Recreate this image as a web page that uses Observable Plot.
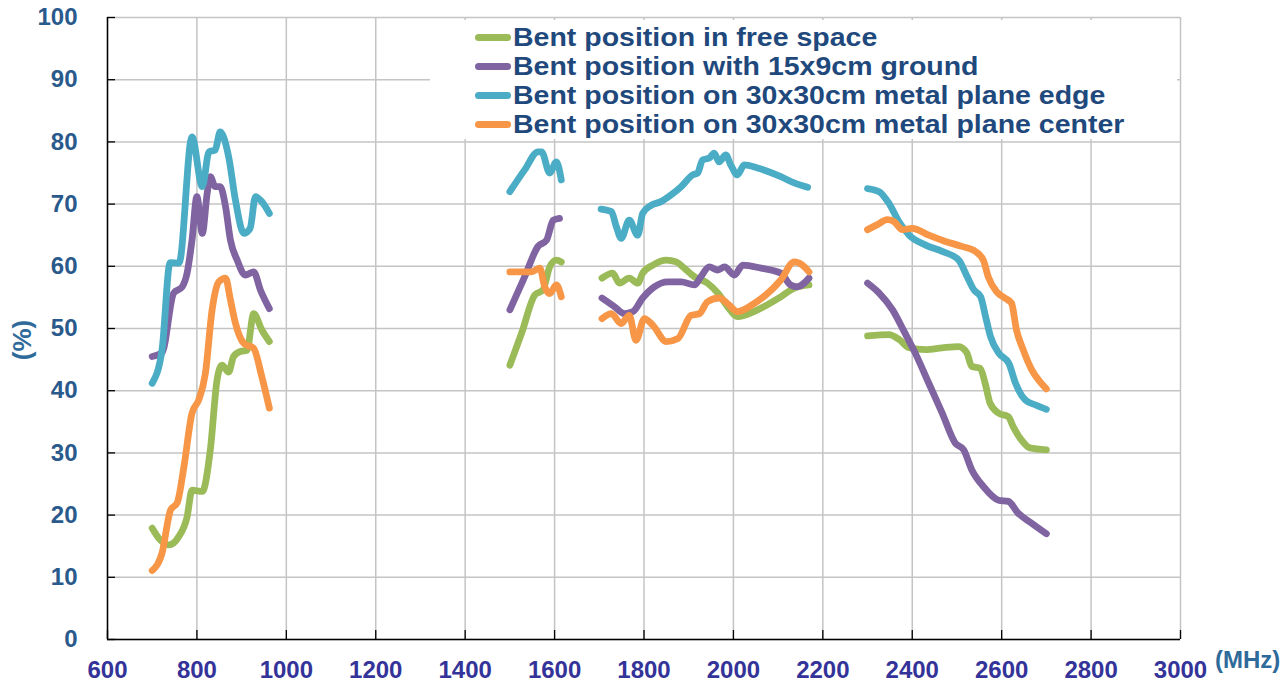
<!DOCTYPE html>
<html>
<head>
<meta charset="utf-8">
<script src="https://cdn.jsdelivr.net/npm/d3@7"></script>
<script src="https://cdn.jsdelivr.net/npm/@observablehq/plot@0.6"></script>
<style>
  body { margin: 0; background: #fff; }
  #wrap { position: relative; width: 1287px; height: 685px; font-family: "Liberation Sans", Arial, sans-serif; }
  #legend { position: absolute; left: 430px; top: 20px; width: 747px; height: 119px; background: #fff; }
  .row { position: absolute; left: 0; height: 29px; width: 740px; }
  .sw { position: absolute; left: 45px; top: 11px; width: 36px; height: 7px; border-radius: 4px; }
  .lab { position: absolute; left: 83px; top: 0; font-weight: bold; font-size: 25px; line-height: 29px; color: #1f497d; white-space: nowrap; transform: scaleX(1.14); transform-origin: left center; }
  #ylab { position: absolute; left: 22px; top: 340px; transform: translate(-50%, -50%) rotate(-90deg); font-weight: bold; font-size: 26px; color: #2f6b9a; white-space: nowrap; }
  #xlab { position: absolute; left: 1215px; top: 646px; font-weight: bold; font-size: 24px; color: #2f6b9a; white-space: nowrap; }
</style>
</head>
<body>
<div id="wrap">
  <div id="chart"></div>
  <div id="legend"></div>
  <div id="ylab">(%)</div>
  <div id="xlab">(MHz)</div>
</div>
<script>
// ---- data ----
const seriesNames = [
  "Bent position in free space",
  "Bent position with 15x9cm ground",
  "Bent position on 30x30cm metal plane edge",
  "Bent position on 30x30cm metal plane center"
];
const seriesColors = ["#9bbb59", "#8064a2", "#4bacc6", "#f79646"];
const xTicks = [600, 800, 1000, 1200, 1400, 1600, 1800, 2000, 2200, 2400, 2600, 2800, 3000];
const yTicks = [0, 10, 20, 30, 40, 50, 60, 70, 80, 90, 100];

// [MHz, %]
const freeSpace = [
  [700,17.9],[718,16.0],[737,15.2],[759,16.5],[778,19.7],[789,24.0],[812,23.8],[830,30.5],[845,41.7],[856,44.1],[871,43.0],[882,45.5],[897,46.3],[912,46.5],[927,52.4],[945,49.8],[962,47.9],
  [1500,44.1],[1526,49.2],[1556,55.4],[1574,56.2],[1589,59.9],[1604,61.0],[1615,60.7],
  [1706,58.1],[1730,58.9],[1745,57.3],[1767,58.1],[1786,57.3],[1797,58.9],[1820,60.2],[1850,61.0],[1872,60.7],[1890,59.7],[1913,58.3],[1942,57.3],[1965,55.7],[1987,53.5],[2009,51.9],[2054,53.0],[2106,55.1],[2136,56.5],[2169,57.0],
  [2300,48.8],[2348,49.0],[2371,48.2],[2393,46.9],[2430,46.6],[2467,46.9],[2504,47.1],[2522,46.1],[2533,43.9],[2552,43.6],[2563,41.2],[2574,38.0],[2593,36.4],[2615,35.8],[2626,34.2],[2644,32.1],[2663,30.8],[2700,30.5]
];
const ground15x9 = [
  [700,45.5],[722,46.1],[748,55.7],[767,56.7],[778,58.9],[789,64.2],[800,71.2],[812,65.3],[823,71.8],[830,74.4],[841,72.8],[852,72.8],[864,69.6],[875,64.2],[890,61.0],[908,58.6],[927,59.1],[942,56.2],[962,53.2],
  [1500,53.0],[1533,58.3],[1563,63.2],[1582,64.2],[1597,67.4],[1611,67.7],
  [1706,54.9],[1734,53.5],[1756,52.4],[1775,52.7],[1797,54.9],[1823,56.7],[1853,57.5],[1883,57.5],[1913,57.0],[1927,58.3],[1946,59.9],[1965,59.4],[1980,59.9],[2002,58.6],[2021,60.2],[2062,59.7],[2106,58.9],[2128,57.0],[2143,56.7],[2169,58.1],
  [2300,57.3],[2326,55.7],[2356,53.0],[2382,49.5],[2407,46.0],[2437,41.2],[2467,36.4],[2496,31.6],[2515,30.5],[2533,27.3],[2559,24.6],[2593,22.4],[2615,22.2],[2637,20.3],[2667,18.7],[2700,17.0]
];
const metalEdge = [
  [700,41.2],[722,46.6],[740,60.6],[760,60.5],[789,80.8],[812,72.8],[827,78.4],[841,78.7],[852,81.6],[871,77.6],[886,70.7],[905,65.3],[919,66.1],[931,71.2],[945,70.4],[962,68.5],
  [1500,72.0],[1533,75.5],[1563,78.4],[1571,78.4],[1589,75.0],[1604,76.8],[1615,73.9],
  [1704,69.2],[1727,68.8],[1738,66.4],[1749,64.5],[1767,67.4],[1786,65.0],[1797,68.5],[1816,69.8],[1838,70.4],[1861,71.5],[1883,72.8],[1909,74.7],[1920,75.0],[1931,77.1],[1946,77.4],[1957,78.2],[1968,76.8],[1983,77.9],[1994,76.3],[2009,74.7],[2024,76.3],[2054,75.8],[2106,74.4],[2136,73.4],[2166,72.7],
  [2300,72.5],[2326,72.0],[2348,70.1],[2370,67.2],[2393,65.0],[2430,63.4],[2467,62.4],[2504,61.0],[2523,58.3],[2538,56.2],[2553,55.1],[2564,51.9],[2575,48.7],[2594,46.0],[2616,44.4],[2631,41.2],[2653,38.5],[2676,37.7],[2700,37.0]
];
const metalCenter = [
  [700,11.1],[722,13.9],[741,20.8],[756,22.0],[771,27.8],[789,36.4],[804,38.5],[819,42.8],[834,53.0],[849,57.5],[864,58.1],[875,54.6],[886,50.9],[905,47.6],[927,46.8],[945,42.3],[962,37.2],
  [1500,59.1],[1548,59.1],[1567,59.7],[1578,56.7],[1589,55.6],[1604,57.0],[1615,55.1],
  [1706,51.6],[1727,52.4],[1749,50.8],[1767,52.1],[1782,48.1],[1801,51.6],[1820,50.5],[1850,47.9],[1876,48.4],[1905,52.1],[1924,52.4],[1942,54.3],[1968,54.9],[1987,54.0],[2009,52.7],[2046,54.0],[2106,57.8],[2136,60.7],[2154,60.2],[2169,59.1],
  [2300,65.9],[2322,66.7],[2344,67.5],[2359,67.2],[2378,65.9],[2400,66.1],[2437,65.0],[2474,64.0],[2511,63.2],[2541,62.4],[2559,61.0],[2570,58.3],[2589,55.9],[2607,54.9],[2622,54.1],[2633,49.8],[2648,46.6],[2667,43.4],[2685,41.5],[2700,40.3]
];

// ---- table ----
const allSeries = [freeSpace, ground15x9, metalEdge, metalCenter];
const bandOf = f => f < 1200 ? 0 : f < 1650 ? 1 : f < 2250 ? 2 : 3;
const rows = [];
allSeries.forEach((pts, i) => {
  pts.forEach(([f, v]) => rows.push({series: seriesNames[i], key: i + "-" + bandOf(f), f, v}));
});

const W = 1287, H = 685, ML = 107, MR = 107, MT = 17, MB = 46;
const plotW = W - ML - MR, plotH = H - MT - MB;

const chart = Plot.plot({
  width: W, height: H,
  marginLeft: ML, marginRight: MR, marginTop: MT, marginBottom: MB,
  x: {domain: [600, 3000]},
  y: {domain: [0, 100]},
  color: {domain: seriesNames, range: seriesColors},
  style: {fontFamily: '"Liberation Sans", Arial, sans-serif', background: "transparent"},
  marks: [
    Plot.gridX(xTicks, {stroke: "#c4c4c4", strokeOpacity: 1, strokeWidth: 1.5}),
    Plot.gridY(yTicks, {stroke: "#c4c4c4", strokeOpacity: 1, strokeWidth: 1.5}),
    Plot.line(rows, {x: "f", y: "v", z: "key", stroke: "series", strokeWidth: 6.8, strokeLinecap: "round", strokeLinejoin: "round", curve: "monotone-x"}),
    Plot.ruleX([600], {stroke: "#000", strokeWidth: 1.5}),
    Plot.ruleY([0], {stroke: "#000", strokeWidth: 1.5}),
    Plot.tickX(xTicks, {x: d => d, insetTop: plotH - 9, stroke: "#000", strokeWidth: 1.3}),
    Plot.tickY(yTicks, {y: d => d, insetRight: plotW - 8, stroke: "#000", strokeWidth: 1.3}),
    Plot.axisX(xTicks, {tickSize: 0, tickPadding: 21, fontSize: 24, fontWeight: "bold", color: "#333399", label: null, tickFormat: d => String(d)}),
    Plot.axisY(yTicks, {tickSize: 0, tickPadding: 30, fontSize: 24, fontWeight: "bold", color: "#2a5a8c", label: null, tickFormat: d => String(d)})
  ]
});
document.getElementById("chart").appendChild(chart);

// ---- legend ----
const legend = document.getElementById("legend");
seriesNames.forEach((name, i) => {
  const row = document.createElement("div");
  row.className = "row";
  row.style.top = (2.5 + i * 29.3) + "px";
  const sw = document.createElement("div");
  sw.className = "sw";
  sw.style.background = seriesColors[i];
  const lab = document.createElement("div");
  lab.className = "lab";
  lab.textContent = name;
  row.appendChild(sw);
  row.appendChild(lab);
  legend.appendChild(row);
});
</script>
</body>
</html>
